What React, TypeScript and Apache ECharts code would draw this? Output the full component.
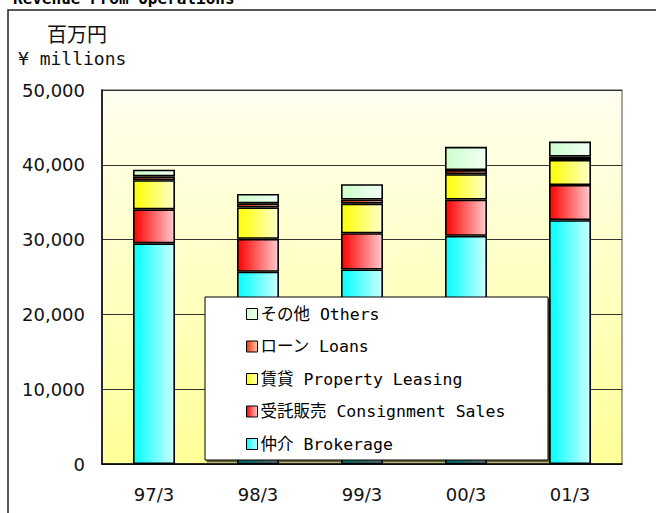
import React, { useEffect, useRef } from "react";
import * as echarts from "echarts";

const categories = ["97/3", "98/3", "99/3", "00/3", "01/3"];
const brokerage = [29500, 25700, 26000, 30500, 32600];
const consignment = [4550, 4400, 4850, 4850, 4700];
const leasing = [3900, 4200, 3950, 3400, 3350];
const loans = [500, 550, 550, 550, 450];
const others = [900, 1250, 2050, 3100, 2000];
const yTicks = { min: 0, max: 50000, interval: 10000 };

const seriesNames = {
  brokerage: "仲介 Brokerage",
  consignment: "受託販売 Consignment Sales",
  leasing: "賃貸 Property Leasing",
  loans: "ローン Loans",
  others: "その他 Others",
};

const hGrad = (a: string, b: string) =>
  new echarts.graphic.LinearGradient(0, 0, 1, 0, [
    { offset: 0, color: a },
    { offset: 1, color: b },
  ]);

export default function App() {
  const ref = useRef<HTMLDivElement>(null);
  useEffect(() => {
    if (!ref.current) return;
    const chart = echarts.init(ref.current, undefined, { renderer: "svg" });
    const mk = (name: string, data: number[], a: string, b: string) => ({
      name,
      type: "bar",
      stack: "total",
      data,
      barWidth: 42,
      itemStyle: { color: hGrad(a, b), borderColor: "#000", borderWidth: 1.6 },
      emphasis: { disabled: true },
    });
    const mono = "'DejaVu Sans Mono', 'Noto Sans CJK JP', monospace";
    chart.setOption({
      animation: false,
      backgroundColor: "#fff",
      grid: {
        left: 102,
        top: 90,
        width: 520,
        height: 374,
        show: true,
        backgroundColor: new echarts.graphic.LinearGradient(0, 0, 0, 1, [
          { offset: 0, color: "#FFFFF0" },
          { offset: 1, color: "#FFFF99" },
        ]),
        borderColor: "#888",
        borderWidth: 1.5,
      },
      xAxis: {
        type: "category",
        data: categories,
        axisLine: { lineStyle: { color: "#000", width: 1.5 } },
        axisTick: { show: false },
        axisLabel: {
          color: "#111",
          fontSize: 18,
          fontFamily: "'DejaVu Sans', sans-serif",
          margin: 21,
        },
      },
      yAxis: {
        type: "value",
        min: yTicks.min,
        max: yTicks.max,
        interval: yTicks.interval,
        axisLine: { show: true, lineStyle: { color: "#000", width: 1.5 } },
        axisTick: { show: false },
        splitLine: { lineStyle: { color: "#333", width: 1 } },
        axisLabel: {
          color: "#111",
          fontSize: 18,
          fontFamily: "'DejaVu Sans', sans-serif",
          margin: 17,
          formatter: (v: number) => v.toLocaleString("en-US"),
        },
      },
      legend: {
        left: 246,
        top: 305,
        orient: "vertical",
        padding: 0,
        icon: "rect",
        itemWidth: 11,
        itemHeight: 11,
        itemGap: 14.5,
        z: 20,
        data: [
          seriesNames.others,
          seriesNames.loans,
          seriesNames.leasing,
          seriesNames.consignment,
          seriesNames.brokerage,
        ],
        textStyle: { fontFamily: mono, fontSize: 16.5, color: "#000", lineHeight: 18, padding: [0, 0, 0, -2] },
        itemStyle: { borderColor: "#000", borderWidth: 1 },
      },
      graphic: [
        {
          type: "rect",
          z: 10,
          shape: { x: 8, y: 10, width: 700, height: 600 },
          style: { fill: "none", stroke: "#222", lineWidth: 1.5 },
          silent: true,
        },
        {
          type: "text",
          z: 10,
          x: 13,
          y: -10,
          style: {
            text: "Revenue From Operations",
            fontFamily: mono,
            fontWeight: "bold",
            fontSize: 16,
            fill: "#000",
            verticalAlign: "top",
          },
        },
        {
          type: "text",
          z: 10,
          x: 47,
          y: 33,
          style: {
            text: "百万円",
            fontFamily: "'Noto Sans CJK JP', sans-serif",
            fontSize: 20,
            fill: "#111",
            verticalAlign: "middle",
          },
        },
        {
          type: "text",
          z: 10,
          x: 18,
          y: 58,
          style: {
            text: "¥ millions",
            fontFamily: mono,
            fontSize: 18,
            fill: "#111",
            verticalAlign: "middle",
          },
        },
        {
          type: "rect",
          z: 15,
          shape: { x: 205, y: 297, width: 343, height: 163 },
          style: {
            fill: "#fff",
            stroke: "#000",
            lineWidth: 1,
            shadowColor: "rgba(0,0,0,0.6)",
            shadowOffsetX: 2,
            shadowOffsetY: 2,
            shadowBlur: 0,
          },
          silent: true,
        },
      ],
      series: [
        mk(seriesNames.brokerage, brokerage, "#00FFFF", "#CCFFFF"),
        mk(seriesNames.consignment, consignment, "#FF0000", "#FFCCCC"),
        mk(seriesNames.leasing, leasing, "#FFFF00", "#FFFFCC"),
        mk(seriesNames.loans, loans, "#FF3300", "#FFCCBB"),
        mk(seriesNames.others, others, "#CCFFCC", "#F2FFF4"),
      ],
    });
    return () => chart.dispose();
  }, []);
  return (
    <div
      ref={ref}
      style={{ position: "absolute", left: 0, top: 0, width: 656, height: 513 }}
    />
  );
}
